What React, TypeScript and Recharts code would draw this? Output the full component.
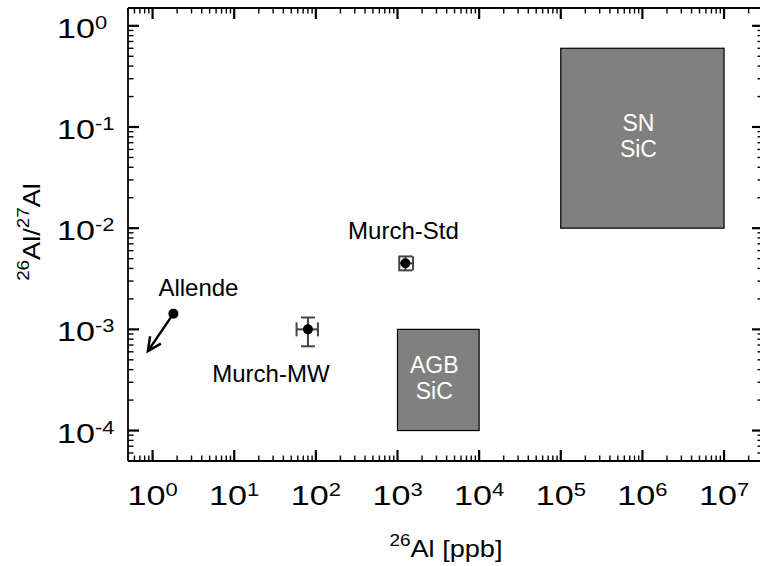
import React from "react";
import { ScatterChart, Scatter, XAxis, YAxis, ErrorBar, ReferenceArea, ReferenceLine } from "recharts";

const FONT = '"Liberation Sans", Arial, Helvetica, sans-serif';

// meteorite samples
const SAMPLE_NAMES = ["Allende", "Murch-MW", "Murch-Std"];
const AL26_PPB = [1.8, 80, 1250];
const AL_RATIO = [1.43e-3, 1.0e-3, 4.5e-3];
const AL26_ERR = [null, [22, 26], [200, 300]];
const RATIO_ERR = [null, [0.32e-3, 0.31e-3], [0.67e-3, 0.76e-3]];

// Allende is an upper limit: arrow tip
const ALLENDE_TIP_X = 0.876;
const ALLENDE_TIP_Y = 6.1e-4;

// presolar grain fields
const GRAIN_LABELS = [["AGB", "SiC"], ["SN", "SiC"]];
const GRAIN_X = [[1e3, 1e4], [1e5, 1e7]];
const GRAIN_Y = [[1e-4, 1e-3], [1e-2, 0.6]];

const X_DOMAIN = [0.5, 3e7];
const Y_DOMAIN = [5e-5, 1.5];
const X_DECADES = [-1, 0, 1, 2, 3, 4, 5, 6, 7];
const Y_DECADES = [-5, -4, -3, -2, -1, 0];

const logTicks = (decades: number[], [lo, hi]: number[]) => {
    const out: number[] = [];
    decades.forEach((d) => {
        for (let m = 1; m <= 9; m++) {
            const v = Number((m * Math.pow(10, d)).toPrecision(6));
            if (v >= lo && v <= hi) out.push(v);
        }
    });
    return out;
};

const X_TICKS = logTicks(X_DECADES, X_DOMAIN);
const Y_TICKS = logTicks(Y_DECADES, Y_DOMAIN);

const LABEL_OFFSET: Record<string, number[]> = {
    "Allende": [25, -18],
    "Murch-MW": [-37, 53],
    "Murch-Std": [-2, -24],
};

const points = SAMPLE_NAMES.map((name, i) => ({
    name,
    x: AL26_PPB[i],
    y: AL_RATIO[i],
    ex: AL26_ERR[i],
    ey: RATIO_ERR[i],
}));
const measured = points.filter((p) => p.ex);

const exponent = (v: number) => {
    const lg = Math.log10(v);
    const e = Math.round(lg);
    return { e, major: Math.abs(lg - e) < 1e-6 };
};

const MAJOR = 11;
const MINOR = 5.5;
const TINY = 0.001; // recharts treats 0 as "use default"

const Power = ({ e, anchor }: { e: number; anchor: "start" | "middle" }) => (
    <text fontFamily={FONT} fontSize={28} fill="#000" textAnchor={anchor}>
        10<tspan dy={-9} fontSize={18}>{e}</tspan>
    </text>
);

const BottomTick = (p: any) => {
    const { e, major } = exponent(p.payload.value);
    return (
        <g>
            <line x1={p.x} x2={p.x} y1={p.y} y2={p.y - (major ? MAJOR : MINOR)} stroke="#000" strokeWidth={major ? 2.2 : 1.4} />
            {major && (
                <g transform={`translate(${p.x},${p.y + 44}) scale(1.22,1)`}>
                    <Power e={e} anchor="middle" />
                </g>
            )}
        </g>
    );
};

const TopTick = (p: any) => {
    const { major } = exponent(p.payload.value);
    return <line x1={p.x} x2={p.x} y1={p.y} y2={p.y + (major ? MAJOR : MINOR)} stroke="#000" strokeWidth={major ? 2.2 : 1.4} />;
};

const LeftTick = (p: any) => {
    const { e, major } = exponent(p.payload.value);
    return (
        <g>
            <line x1={p.x} x2={p.x + (major ? MAJOR : MINOR)} y1={p.y} y2={p.y} stroke="#000" strokeWidth={major ? 2.2 : 1.4} />
            {major && (
                <g transform={`translate(${p.x - 71},${p.y + 12}) scale(1.22,1)`}>
                    <Power e={e} anchor="start" />
                </g>
            )}
        </g>
    );
};

const RightTick = (p: any) => {
    const { major } = exponent(p.payload.value);
    return <line x1={p.x} x2={p.x - (major ? MAJOR : MINOR)} y1={p.y} y2={p.y} stroke="#000" strokeWidth={major ? 2.2 : 1.4} />;
};

const Dot = (p: any) => {
    const off = LABEL_OFFSET[p.payload.name] || [0, 0];
    return (
        <g>
            <circle cx={p.cx} cy={p.cy} r={5} fill="#000" />
            <text x={p.cx + off[0]} y={p.cy + off[1]} textAnchor="middle" fontFamily={FONT} fontSize={24} fill="#000">
                {p.payload.name}
            </text>
        </g>
    );
};

const NoMark = () => <g />;

const Arrow = (p: any) => {
    const ang = Math.atan2(p.y2 - p.y1, p.x2 - p.x1);
    const len = 15;
    const spread = 0.45;
    const a = [p.x2 - len * Math.cos(ang - spread), p.y2 - len * Math.sin(ang - spread)];
    const b = [p.x2 - len * Math.cos(ang + spread), p.y2 - len * Math.sin(ang + spread)];
    return (
        <g>
            <line x1={p.x1} y1={p.y1} x2={p.x2} y2={p.y2} stroke="#000" strokeWidth={2.5} />
            <polyline points={`${a[0]},${a[1]} ${p.x2},${p.y2} ${b[0]},${b[1]}`} fill="none" stroke="#000" strokeWidth={2.5} />
        </g>
    );
};

const GrainBox = (p: any) => {
    const cx = p.x + p.width / 2 - 4;
    const cy = p.y + p.height / 2;
    return (
        <g>
            <rect x={p.x} y={p.y} width={p.width} height={p.height} fill="#808080" stroke="#000" strokeWidth={1.2} />
            <text x={cx} y={cy - 7} textAnchor="middle" fontFamily={FONT} fontSize={23} fill="#fff">{p.lines[0]}</text>
            <text x={cx} y={cy + 19} textAnchor="middle" fontFamily={FONT} fontSize={23} fill="#fff">{p.lines[1]}</text>
        </g>
    );
};

const axisLine = { stroke: "#000", strokeWidth: 1.8 };

export default function App() {
    return (
        <div style={{ position: "fixed", left: 0, top: 0, width: 760, height: 566, overflow: "hidden", background: "#fff" }}>
            <ScatterChart width={800} height={566} margin={{ top: 7, right: 36, bottom: 104, left: 127 }}>
                <XAxis xAxisId="b" type="number" dataKey="x" scale="log" domain={X_DOMAIN} allowDataOverflow
                    ticks={X_TICKS} interval={0} height={1} tickSize={TINY} tickMargin={TINY} tickLine={false}
                    axisLine={axisLine} tick={BottomTick} />
                <XAxis xAxisId="t" orientation="top" type="number" dataKey="x" scale="log" domain={X_DOMAIN} allowDataOverflow
                    ticks={X_TICKS} interval={0} height={1} tickSize={TINY} tickMargin={TINY} tickLine={false}
                    axisLine={axisLine} tick={TopTick} />
                <YAxis yAxisId="l" type="number" dataKey="y" scale="log" domain={Y_DOMAIN} allowDataOverflow
                    ticks={Y_TICKS} interval={0} width={1} tickSize={TINY} tickMargin={TINY} tickLine={false}
                    axisLine={axisLine} tick={LeftTick} />
                <YAxis yAxisId="r" orientation="right" type="number" dataKey="y" scale="log" domain={Y_DOMAIN} allowDataOverflow
                    ticks={Y_TICKS} interval={0} width={1} tickSize={TINY} tickMargin={TINY} tickLine={false}
                    axisLine={axisLine} tick={RightTick} />
                {GRAIN_LABELS.map((lines, i) => (
                    <ReferenceArea key={lines.join("-")} xAxisId="b" yAxisId="l"
                        x1={GRAIN_X[i][0]} x2={GRAIN_X[i][1]} y1={GRAIN_Y[i][0]} y2={GRAIN_Y[i][1]}
                        fillOpacity={1} shape={(p: any) => <GrainBox {...p} lines={lines} />} />
                ))}
                <ReferenceLine xAxisId="b" yAxisId="l"
                    segment={[{ x: AL26_PPB[0], y: AL_RATIO[0] }, { x: ALLENDE_TIP_X, y: ALLENDE_TIP_Y }]}
                    shape={Arrow} />
                <Scatter xAxisId="b" yAxisId="l" data={measured} shape={NoMark} isAnimationActive={false}>
                    <ErrorBar dataKey="ex" direction="x" width={7} stroke="#444" strokeWidth={2} />
                    <ErrorBar dataKey="ey" direction="y" width={7} stroke="#444" strokeWidth={2} />
                </Scatter>
                <Scatter xAxisId="b" yAxisId="l" data={points} shape={Dot} isAnimationActive={false} />
            </ScatterChart>
            <svg width={760} height={566} style={{ position: "absolute", left: 0, top: 0, pointerEvents: "none" }}>
                <g transform="translate(446,557) scale(1.18,1)">
                    <text textAnchor="middle" fontFamily={FONT} fontSize={23} fill="#000">
                        <tspan fontSize={16} dy={-11}>26</tspan><tspan dy={11}>Al [ppb]</tspan>
                    </text>
                </g>
                <g transform="translate(40,232) rotate(-90) scale(1.18,1)">
                    <text textAnchor="middle" fontFamily={FONT} fontSize={23} fill="#000">
                        <tspan fontSize={16} dy={-11}>26</tspan><tspan dy={11}>Al/</tspan>
                        <tspan fontSize={16} dy={-11}>27</tspan><tspan dy={11}>Al</tspan>
                    </text>
                </g>
            </svg>
        </div>
    );
}
